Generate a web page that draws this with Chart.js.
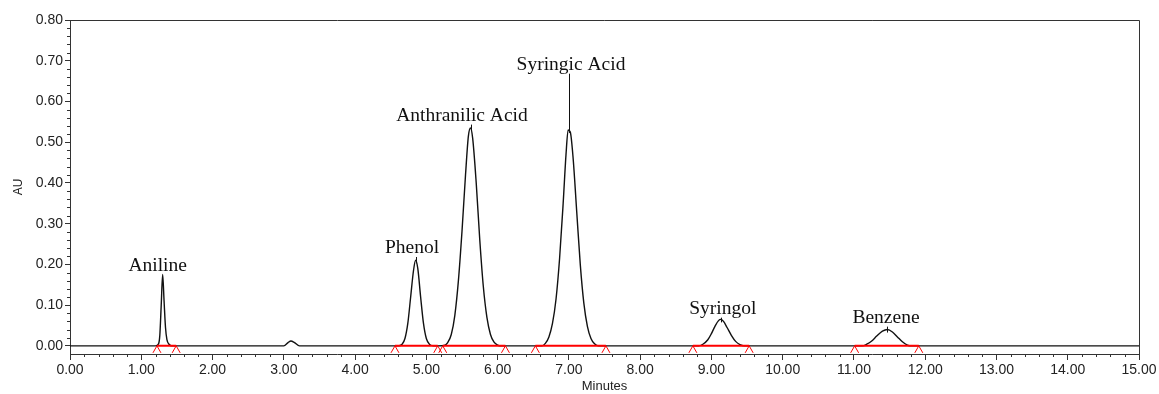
<!DOCTYPE html>
<html>
<head>
<meta charset="utf-8">
<script src="https://cdn.jsdelivr.net/npm/chart.js@4/dist/chart.umd.min.js"></script>
<style>
  html, body { margin: 0; padding: 0; background: #fff; }
  #wrap { width: 1159px; height: 394px; position: relative; }
</style>
</head>
<body>
<div id="wrap"><canvas id="myChart"></canvas></div>
<script>
// Detector trace (minutes, AU)
const traceTimes = [
  0.00, 1.20, 1.24, 1.26, 1.28, 1.30, 1.32, 1.34, 1.36, 1.39, 1.43,
  3.00, 3.06, 3.10, 3.15, 3.22,
  4.60, 4.66, 4.70, 4.74, 4.78, 4.82, 4.85, 4.88, 4.92, 4.96, 5.00, 5.05, 5.10,
  5.25, 5.30, 5.35, 5.40, 5.45, 5.50, 5.55, 5.59, 5.62, 5.65, 5.70, 5.75, 5.80, 5.85, 5.90, 5.95, 6.00, 6.05,
  6.62, 6.67, 6.72, 6.77, 6.82, 6.87, 6.92, 6.96, 6.99, 7.02, 7.06, 7.11, 7.16, 7.21, 7.26, 7.31, 7.36, 7.42,
  8.82, 8.88, 8.95, 9.00, 9.05, 9.10, 9.13, 9.17, 9.22, 9.28, 9.34, 9.40, 9.46,
  11.12, 11.18, 11.25, 11.32, 11.40, 11.47, 11.54, 11.61, 11.68, 11.75, 11.80,
  15.00
];
const traceAU = [
  0, 0, 0.004, 0.025, 0.10, 0.175, 0.11, 0.045, 0.015, 0.004, 0,
  0, 0.008, 0.012, 0.008, 0,
  0, 0.004, 0.018, 0.055, 0.12, 0.185, 0.21, 0.19, 0.12, 0.055, 0.018, 0.003, 0,
  0.001, 0.008, 0.028, 0.075, 0.16, 0.28, 0.42, 0.515, 0.535, 0.51, 0.40, 0.26, 0.145, 0.07, 0.028, 0.009, 0.002, 0,
  0, 0.006, 0.022, 0.055, 0.115, 0.215, 0.35, 0.47, 0.53, 0.525, 0.46, 0.33, 0.20, 0.105, 0.048, 0.018, 0.005, 0,
  0, 0.004, 0.015, 0.03, 0.048, 0.062, 0.065, 0.06, 0.045, 0.026, 0.011, 0.003, 0,
  0, 0.004, 0.012, 0.024, 0.036, 0.04, 0.034, 0.022, 0.01, 0.002, 0,
  0
];

// Peaks
const peakNames = ['Aniline', 'Phenol', 'Anthranilic Acid', 'Syringic Acid', 'Syringol', 'Benzene'];
const peakTimes = [1.30, 4.85, 5.62, 7.00, 9.13, 11.47];
const peakAU = [0.175, 0.21, 0.535, 0.53, 0.065, 0.04];
const labelTimes = [1.23, 4.80, 5.50, 7.03, 9.16, 11.45];
const labelAU = [0.183, 0.228, 0.553, 0.678, 0.079, 0.057];

// Integration baselines
const baseStarts = [1.22, 4.56, 5.23, 6.53, 8.74, 11.01];
const baseEnds = [1.49, 5.16, 6.11, 7.52, 9.53, 11.91];

// Ticks
const xTicks = [0, 1, 2, 3, 4, 5, 6, 7, 8, 9, 10, 11, 12, 13, 14, 15];
const yTicks = [0, 0.1, 0.2, 0.3, 0.4, 0.5, 0.6, 0.7, 0.8];

const tickFont = { family: '"Liberation Sans", Arial, sans-serif', size: 14 };
const axisColor = '#333';

const tracePoints = traceTimes.map((t, i) => ({ x: t, y: traceAU[i] }));
const basePoints = [];
baseStarts.forEach((s, i) => {
  basePoints.push({ x: s, y: 0 }, { x: baseEnds[i], y: 0 }, { x: baseEnds[i] + 0.01, y: null });
});

// frame, minor ticks, peak labels, baseline markers
const extras = {
  id: 'extras',
  afterDatasetsDraw(chart) {
    const ctx = chart.ctx;
    const x = chart.scales.x;
    const y = chart.scales.y;
    const area = chart.chartArea;
    ctx.save();

    // frame top/right
    ctx.strokeStyle = axisColor;
    ctx.lineWidth = 1;
    ctx.beginPath();
    ctx.moveTo(area.left, area.top + 0.5);
    ctx.lineTo(area.right + 0.5, area.top + 0.5);
    ctx.lineTo(area.right + 0.5, area.bottom);
    ctx.stroke();

    // minor ticks
    ctx.beginPath();
    for (let v = 0.2; v < 15; v += 0.2) {
      if (Math.abs(v - Math.round(v)) < 0.01) continue;
      const px = Math.round(x.getPixelForValue(v)) + 0.5;
      ctx.moveTo(px, area.bottom);
      ctx.lineTo(px, area.bottom + 3);
    }
    for (let v = 0.02; v < 0.8; v += 0.02) {
      if (Math.abs(v * 10 - Math.round(v * 10)) < 0.01) continue;
      const py = Math.round(y.getPixelForValue(v)) + 0.5;
      ctx.moveTo(area.left, py);
      ctx.lineTo(area.left - 3, py);
    }
    ctx.stroke();

    // baseline markers
    const y0 = y.getPixelForValue(0);
    ctx.strokeStyle = '#ff0000';
    ctx.beginPath();
    baseStarts.concat(baseEnds).forEach(t => {
      const px = x.getPixelForValue(t);
      ctx.moveTo(px - 4, y0 + 7);
      ctx.lineTo(px, y0);
      ctx.lineTo(px + 4, y0 + 7);
    });
    ctx.stroke();

    // peak labels
    ctx.strokeStyle = '#111';
    ctx.fillStyle = '#111';
    ctx.font = '19.5px "Liberation Serif", "Times New Roman", serif';
    ctx.textAlign = 'center';
    ctx.textBaseline = 'alphabetic';
    peakNames.forEach((name, i) => {
      const px = Math.round(x.getPixelForValue(peakTimes[i])) + 0.5;
      const pTop = y.getPixelForValue(peakAU[i]);
      const lBase = y.getPixelForValue(labelAU[i]);
      if (pTop - (lBase + 4) > 0) {
        ctx.beginPath();
        ctx.moveTo(px, pTop + 3);
        ctx.lineTo(px, lBase + 4);
        ctx.stroke();
      }
      ctx.fillText(name, x.getPixelForValue(labelTimes[i]), lBase);
    });
    ctx.restore();
  }
};

new Chart(document.getElementById('myChart'), {
  type: 'line',
  data: {
    datasets: [
      {
        label: 'Baseline',
        data: basePoints,
        borderColor: '#ff0000',
        borderWidth: 2,
        pointRadius: 0,
        spanGaps: false,
        order: 0,
      },
      {
        label: 'Trace',
        data: tracePoints,
        borderColor: '#111',
        borderWidth: 1.4,
        pointRadius: 0,
        cubicInterpolationMode: 'monotone',
        order: 1,
      },
    ],
  },
  options: {
    responsive: true,
    maintainAspectRatio: false,
    animation: false,
    layout: { padding: { top: 20, right: 20, left: 0, bottom: 0 } },
    plugins: {
      legend: { display: false },
      tooltip: { enabled: false },
    },
    scales: {
      x: {
        type: 'linear',
        min: 0,
        max: 15,
        afterBuildTicks: (s) => { s.ticks = xTicks.map(v => ({ value: v })); },
        afterFit: (s) => { s.height = 40; },
        ticks: {
          autoSkip: false,
          maxRotation: 0,
          padding: 2,
          color: '#222',
          font: tickFont,
          callback: (v) => Number(v).toFixed(2),
        },
        grid: { drawOnChartArea: false, tickLength: 6, color: axisColor },
        border: { color: axisColor },
        title: {
          display: true,
          text: 'Minutes',
          color: '#222',
          font: { family: '"Liberation Sans", Arial, sans-serif', size: 13 },
          padding: { top: 0, bottom: 0 },
        },
      },
      y: {
        min: -0.02,
        max: 0.8,
        afterBuildTicks: (s) => { s.ticks = yTicks.map(v => ({ value: v })); },
        afterFit: (s) => { s.width = 70; },
        ticks: {
          padding: 2,
          color: '#222',
          font: tickFont,
          callback: (v) => Number(v).toFixed(2),
        },
        grid: { drawOnChartArea: false, tickLength: 5, color: axisColor },
        border: { color: axisColor },
        title: {
          display: true,
          text: 'AU',
          color: '#222',
          font: { family: '"Liberation Sans", Arial, sans-serif', size: 12 },
          padding: { top: 11, bottom: 0 },
        },
      },
    },
  },
  plugins: [extras],
});
</script>
</body>
</html>
